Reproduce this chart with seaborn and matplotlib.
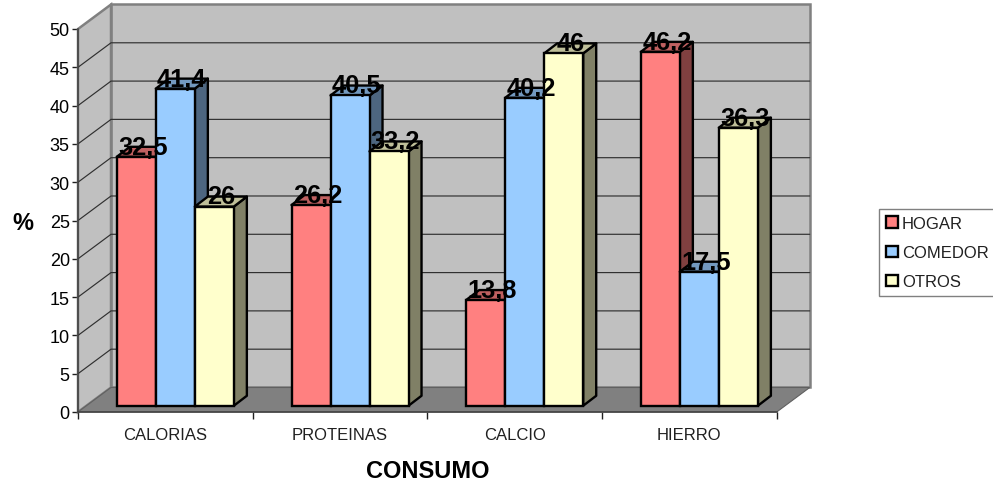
import numpy as np
import pandas as pd
import matplotlib
matplotlib.use("Agg")
import matplotlib.pyplot as plt
from matplotlib.colors import to_rgb
from matplotlib.lines import Line2D
from matplotlib.patches import Patch, Polygon
import seaborn as sns

# Consumption shares by place of consumption
categories = ["CALORIAS", "PROTEINAS", "CALCIO", "HIERRO"]
hogar = [32.5, 26.2, 13.8, 46.2]
comedor = [41.4, 40.5, 40.2, 17.5]
otros = [26, 33.2, 46, 36.3]
series_names = ["HOGAR", "COMEDOR", "OTROS"]
series_colors = ["#FF8080", "#99CCFF", "#FFFFCC"]
y_ticks = list(range(0, 55, 5))

df = pd.DataFrame({"consumo": categories, "HOGAR": hogar, "COMEDOR": comedor, "OTROS": otros})
long_df = df.melt(id_vars="consumo", var_name="lugar", value_name="pct")

sns.set_theme(style="white")
plt.rcParams["font.family"] = ["Liberation Sans", "DejaVu Sans"]

W, H = 993, 485
fig = plt.figure(figsize=(W / 100, H / 100), dpi=100)
ax = fig.add_axes([78 / W, (H - 413) / H, (776.7 - 78) / W, (413 - 30) / H])

edge_w = 1.7
sns.barplot(
    data=long_df, x="consumo", y="pct", hue="lugar",
    hue_order=series_names, order=categories,
    palette=dict(zip(series_names, series_colors)),
    saturation=1, width=0.67, gap=0, errorbar=None,
    edgecolor="black", linewidth=edge_w, legend=False, ax=ax,
)
ax.set_xlim(-0.5, 3.5)
ax.set_ylim(0, 50)

# Front faces in left-to-right order, so nearer neighbours overlap correctly
bars = sorted(ax.patches, key=lambda p: p.get_x())

# Oblique depth of the chart box and of each bar, in data units
wall_dx, wall_dy = 0.189, 3.2
bar_dx, bar_dy = 0.0744, 1.3
shift_x, shift_y = (wall_dx - bar_dx) / 2, (wall_dy - bar_dy) / 2 - 0.13

x0, x1 = ax.get_xlim()
y0, y1 = ax.get_ylim()
wall_gray, floor_gray, frame_gray = "#C0C0C0", "#808080", "#808080"

# Back wall, side wall and floor
ax.add_patch(Polygon([(x0 + wall_dx, y0 + wall_dy), (x1 + wall_dx, y0 + wall_dy),
                      (x1 + wall_dx, y1 + wall_dy), (x0 + wall_dx, y1 + wall_dy)],
                     facecolor=wall_gray, edgecolor=frame_gray, lw=1.8, clip_on=False, zorder=0.5))
ax.add_patch(Polygon([(x0, y0), (x0 + wall_dx, y0 + wall_dy),
                      (x0 + wall_dx, y1 + wall_dy), (x0, y1)],
                     facecolor=wall_gray, edgecolor=frame_gray, lw=1.8, clip_on=False, zorder=0.6))
ax.add_patch(Polygon([(x0, y0), (x1, y0), (x1 + wall_dx, y0 + wall_dy), (x0 + wall_dx, y0 + wall_dy)],
                     facecolor=floor_gray, edgecolor="#606060", lw=0.8, clip_on=False, zorder=0.7))

# Gridlines run along the side wall and across the back wall
for v in y_ticks[1:-1]:
    ax.add_line(Line2D([x0, x0 + wall_dx, x1 + wall_dx],
                       [v, v + wall_dy, v + wall_dy],
                       color="#303030", lw=0.85, clip_on=False, zorder=0.8))

# Raise the front faces off the floor and give each bar its top and side
for i, bar in enumerate(bars):
    base = 2 + i * 0.01
    bar.set_x(bar.get_x() + shift_x)
    bar.set_y(bar.get_y() + shift_y)
    bar.set_clip_on(False)
    bar.set_zorder(base + 0.002)
    xl, xr = bar.get_x(), bar.get_x() + bar.get_width()
    yb, yt = bar.get_y(), bar.get_y() + bar.get_height()
    rgb = np.array(to_rgb(bar.get_facecolor()))
    ax.add_patch(Polygon([(xr, yb), (xr + bar_dx, yb + bar_dy), (xr + bar_dx, yt + bar_dy), (xr, yt)],
                         facecolor=rgb * 0.5, edgecolor="black", lw=edge_w,
                         joinstyle="round", clip_on=False, zorder=base))
    ax.add_patch(Polygon([(xl, yt), (xr, yt), (xr + bar_dx, yt + bar_dy), (xl + bar_dx, yt + bar_dy)],
                         facecolor=rgb * 0.75, edgecolor="black", lw=edge_w,
                         joinstyle="round", clip_on=False, zorder=base + 0.001))
    # Value label sits on the top face of the bar
    value = bar.get_height()
    ax.text((xl + xr + bar_dx) / 2, yt + 0.4, f"{value:g}".replace(".", ","),
            ha="center", va="baseline", fontsize=18.3, fontweight="bold",
            color="black", zorder=5, clip_on=False)

# Axes
for side in ("top", "right"):
    ax.spines[side].set_visible(False)
for side in ("left", "bottom"):
    ax.spines[side].set_color("#404040")
    ax.spines[side].set_linewidth(1.1)
    ax.spines[side].set_zorder(1)
ax.patch.set_alpha(0)

ax.set_yticks(y_ticks)
ax.tick_params(axis="y", which="major", left=True, length=4.4, width=1, color="#202020",
               labelsize=13, labelcolor="black", pad=1.5)
ax.set_xticks(np.arange(x0, x1 + 0.5), minor=True)
ax.tick_params(axis="x", which="minor", bottom=True, length=5, width=1, color="#202020")
ax.tick_params(axis="x", which="major", bottom=False, labelsize=12, labelcolor="#202020", pad=5)

ax.set_xlabel("CONSUMO", fontsize=17, fontweight="bold", color="black")
ax.xaxis.set_label_coords(0.5, -0.123)
ax.set_ylabel("%", fontsize=17, fontweight="bold", rotation=0, ha="center", va="center", color="black")
ax.yaxis.set_label_coords(-0.079, 0.495)

# Legend
handles = [Patch(facecolor=c, edgecolor="black", lw=edge_w, label=n)
           for n, c in zip(series_names, series_colors)]
leg = fig.legend(handles=handles, loc="upper left", bbox_to_anchor=(879 / W, (H - 210) / H),
                 borderaxespad=0, fontsize=12, frameon=True, fancybox=False,
                 edgecolor="#808080", framealpha=1, handlelength=0.7, handleheight=0.7,
                 handletextpad=0.25, labelspacing=0.85, borderpad=0.42, labelcolor="#202020")
leg.get_frame().set_linewidth(1.0)

fig.savefig("out.png", dpi=100, facecolor="white")
